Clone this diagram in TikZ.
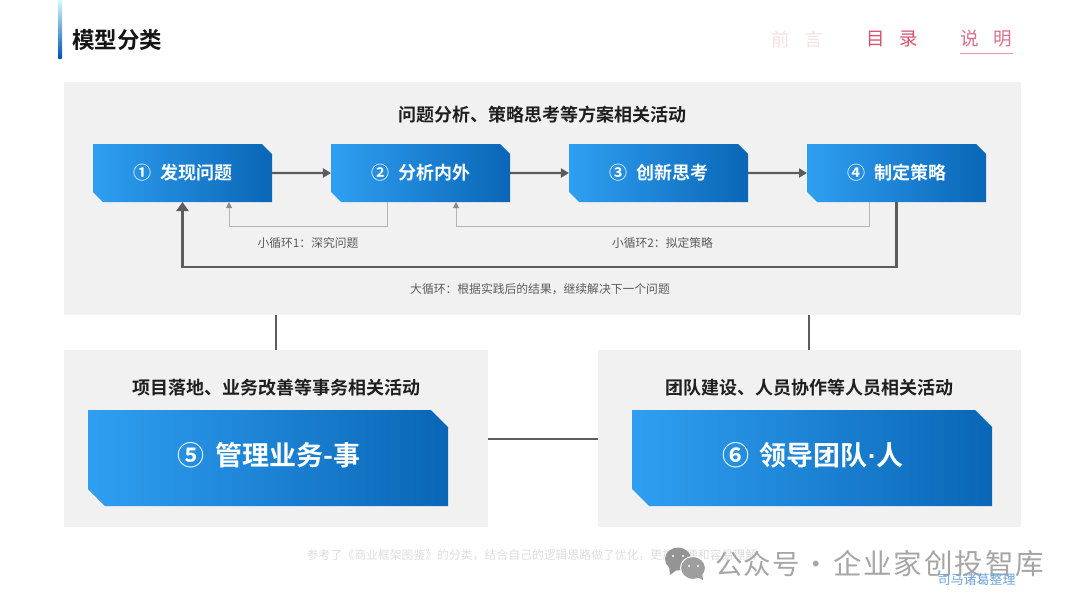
\documentclass[tikz,border=0pt]{standalone}
\usepackage{fontspec}
\setmainfont{Noto Sans CJK SC}
\newfontfamily\cjkbold{Noto Sans CJK SC Bold}
\newfontfamily\latinsans{Liberation Sans Bold}
\newfontfamily\wmfont[LetterSpace=4.5]{Noto Sans CJK SC}
\newfontfamily\wmfontwide[LetterSpace=6.5]{Noto Sans CJK SC}
\usetikzlibrary{shapes.misc,arrows.meta}
\definecolor{panelgray}{HTML}{F1F1F2}
\definecolor{linegray}{HTML}{5C5C5C}
\definecolor{thingray}{HTML}{B4B4B4}
\definecolor{boxleft}{HTML}{2F9FF2}
\definecolor{boxright}{HTML}{0A66B6}
\definecolor{navred}{HTML}{D9506F}
\definecolor{navpale}{HTML}{F7E1E4}
\definecolor{navmid}{HTML}{D9708A}
\tikzset{
  x=1pt,y=-1pt,
  panel/.style={fill=panelgray,draw=none,minimum width=#1,inner sep=0pt,outer sep=0pt,rectangle},
  bluebox/.style={chamfered rectangle,chamfered rectangle corners={north east,south west},
    left color=boxleft,right color=boxright,draw=none,text=white,inner sep=0pt,outer sep=0pt},
  smallbox/.style={bluebox,chamfered rectangle xsep=5pt,chamfered rectangle ysep=5pt,
    minimum width=179pt,minimum height=58pt,font=\cjkbold\fontsize{18}{20}\selectfont},
  bigbox/.style={bluebox,chamfered rectangle xsep=8.5pt,chamfered rectangle ysep=8.5pt,
    minimum width=360pt,minimum height=96pt,text height=20pt,text depth=4.4pt,
    font=\cjkbold\fontsize{27}{32}\selectfont},
  heading/.style={font=\cjkbold\fontsize{18}{22}\selectfont,text=black!88,inner sep=0pt},
  looplabel/.style={font=\fontsize{11.8}{14}\selectfont,text=linegray,inner sep=0pt},
  flow/.style={draw=linegray,line width=2.2pt,-{Triangle[length=8pt,width=9pt]}},
  bigloop/.style={draw=linegray,line width=2.2pt,-{Triangle[length=9pt,width=12pt]}},
  thinloop/.style={draw=thingray,line width=1pt,-{Triangle[length=6pt,width=6pt,fill=gray!90,color=gray!90]}},
  tie/.style={draw=linegray,line width=2pt},
  navtext/.style={font=\fontsize{18.5}{22}\selectfont,inner sep=0pt},
}
\begin{document}
\begin{tikzpicture}
\useasboundingbox (0,0) rectangle (1080,608);
\fill[white] (0,0) rectangle (1080,608);

% title
\shade[top color=blue!5!cyan!15,bottom color=blue!55!cyan!70!black,rounded corners=0.8pt] (58,-1) rectangle (62,59);
\node[font=\cjkbold\fontsize{22.5}{26}\selectfont,text=black!92,anchor=west,inner sep=0pt] (title) at (72,40) {模型分类};

% navigation
\node[navtext,text=navpale] (nav1) at (797,39) {前\hspace{0.8em}言};
\node[navtext,text=navred] (nav2) at (892,39) {目\hspace{0.8em}录};
\node[navtext,text=navmid] (nav3) at (986.5,39) {说\hspace{0.8em}明};
\draw[navred!60,line width=0.8pt] (nav3.west |- 0,53) -- (nav3.east |- 0,53);

% panels
\node[panel=957pt,minimum height=233pt,anchor=north west] (toppanel) at (64,82) {};
\node[panel=424pt,minimum height=177pt,anchor=north west] (leftpanel) at (64,350) {};
\node[panel=423pt,minimum height=177pt,anchor=north west] (rightpanel) at (598,350) {};

% panel connectors
\draw[tie] ([xshift=-266.5pt]toppanel.south) -- ([xshift=-266.5pt]toppanel.south |- leftpanel.north);
\draw[tie] ([xshift=266.5pt]toppanel.south) -- ([xshift=266.5pt]toppanel.south |- rightpanel.north);
\draw[tie] (leftpanel.east) -- (rightpanel.west);

% headings
\node[heading] (h1) at (542,114.7) {问题分析、策略思考等方案相关活动};
\node[heading] (h2) at (276,387.7) {项目落地、业务改善等事务相关活动};
\node[heading] (h3) at (809,387.7) {团队建设、人员协作等人员相关活动};

% step boxes
\node[smallbox] (s1) at (182.5,173) {①\hspace{0.5em}发现问题};
\node[smallbox] (s2) at (420.5,173) {②\hspace{0.5em}分析内外};
\node[smallbox] (s3) at (658.5,173) {③\hspace{0.5em}创新思考};
\node[smallbox] (s4) at (896.5,173) {④\hspace{0.5em}制定策略};
\node[bigbox] (s5) at (268,458) {\hspace{2pt}⑤\hspace{0.4em}管理业务-事};
\node[bigbox] (s6) at (812,458) {\hspace{2pt}⑥\hspace{0.4em}领导团队{\latinsans ·}人};

% flow
\draw[flow] (s1) -- (s2);
\draw[flow] (s2) -- (s3);
\draw[flow] (s3) -- (s4);

% loops
\draw[thinloop] ([xshift=-33pt]s2.south) -- ++(0,24) -| ([xshift=46.5pt]s1.south);
\draw[thinloop] ([xshift=-27.5pt]s4.south) -- ++(0,24) -| ([xshift=35.5pt]s2.south);
\draw[bigloop] (s4.south) -- ++(0,65) -| (s1.south);

% labels
\node[looplabel] (l1) at (308,242.7) {小循环1：深究问题};
\node[looplabel] (l2) at (662.5,242.7) {小循环2：拟定策略};
\node[looplabel] (l3) at (540,288.7) {大循环：根据实践后的结果，继续解决下一个问题};

% footer
\node[font=\fontsize{11.85}{14}\selectfont,text=black!13,inner sep=0pt] (foot) at (532,555) {参考了《商业框架图鉴》的分类，结合自己的逻辑思路做了优化，更加方便和容易理解};

% watermark
\fill[black!42] (678,559) ellipse (13pt and 11.5pt);
\fill[black!42] (669,566) -- (670,575) -- (678,569) -- cycle;
\fill[black!38,draw=white,line width=1pt] (693,568) ellipse (12.5pt and 11.5pt);
\fill[black!38] (697,577) -- (703,580) -- (702,572) -- cycle;
\fill[white] (673,556) circle (1.1pt) (683,556) circle (1.1pt) (689,566) circle (1.1pt) (698,566) circle (1.1pt);
\node[text=black!35,inner sep=0pt,anchor=west] (wm) at (715,564) {\wmfont\fontsize{27.5}{32}\selectfont 公众号\hspace{2.8pt}·\hspace{2.8pt}\wmfontwide\fontsize{28.5}{32}\selectfont 企业家创投智库};
\node[font=\fontsize{13}{16}\selectfont,text=cyan!60!blue!60,inner sep=0pt] (sig) at (976.5,580) {司马诸葛整理};
\end{tikzpicture}
\end{document}
